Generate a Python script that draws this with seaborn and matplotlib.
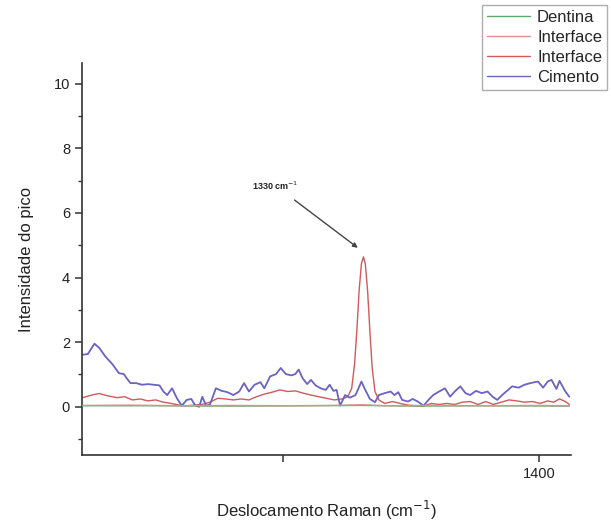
import numpy as np
import pandas as pd
import matplotlib
matplotlib.use("Agg")
import matplotlib.pyplot as plt
import seaborn as sns

# Raman shift (cm^-1) and peak intensity for each spectrum
cimento_x = [1221.8, 1223.8, 1226.4, 1228.3, 1230.6, 1233.6, 1235.9, 1237.9, 1238.9, 1240.5,
             1242.7, 1245.0, 1247.3, 1249.5, 1251.8, 1253.3, 1254.8, 1256.7, 1258.6, 1260.5,
             1262.4, 1264.2, 1265.8, 1267.3, 1268.5, 1270.0, 1271.5, 1273.8, 1276.1, 1278.3,
             1280.6, 1282.9, 1284.8, 1286.7, 1288.9, 1291.2, 1292.7, 1295.0, 1297.3, 1299.1,
             1301.1, 1303.3, 1304.8, 1306.1, 1307.6, 1309.4, 1310.9, 1312.7, 1314.7, 1316.7,
             1318.2, 1319.7, 1320.9, 1322.3, 1324.2, 1326.1, 1328.3, 1330.6, 1332.1, 1333.9,
             1335.9, 1337.4, 1339.7, 1342.0, 1343.5, 1345.0, 1346.5, 1348.8, 1350.6, 1352.6,
             1354.8, 1357.1, 1358.6, 1360.9, 1363.2, 1365.2, 1367.0, 1369.2, 1371.2, 1373.0,
             1375.3, 1377.6, 1379.8, 1381.8, 1383.6, 1385.5, 1387.4, 1389.4, 1392.0, 1394.2,
             1396.5, 1399.5, 1401.5, 1403.3, 1404.8, 1406.7, 1407.9, 1410.2, 1411.7]
cimento_y = [1.61, 1.63, 1.95, 1.82, 1.56, 1.30, 1.04, 1.01, 0.89, 0.73,
             0.73, 0.68, 0.70, 0.68, 0.66, 0.47, 0.36, 0.57, 0.26, 0.03,
             0.21, 0.24, 0.03, 0.00, 0.31, 0.03, 0.07, 0.57, 0.49, 0.45,
             0.36, 0.47, 0.73, 0.47, 0.68, 0.76, 0.57, 0.94, 1.01, 1.20,
             1.01, 0.97, 1.01, 1.15, 0.89, 0.70, 0.83, 0.66, 0.57, 0.52,
             0.68, 0.49, 0.52, 0.03, 0.36, 0.28, 0.36, 0.78, 0.52, 0.24,
             0.14, 0.36, 0.42, 0.47, 0.36, 0.45, 0.21, 0.16, 0.24, 0.16,
             0.03, 0.24, 0.36, 0.47, 0.57, 0.31, 0.47, 0.63, 0.42, 0.36,
             0.49, 0.42, 0.47, 0.31, 0.21, 0.36, 0.49, 0.63, 0.59, 0.68,
             0.73, 0.78, 0.59, 0.78, 0.83, 0.55, 0.80, 0.47, 0.31]

interface_x = [1221.8, 1225.3, 1228.3, 1231.4, 1235.2, 1238.2, 1241.2, 1244.2, 1247.3, 1250.3,
               1253.3, 1256.4, 1259.4, 1262.4, 1265.5, 1268.5, 1271.5, 1274.5, 1277.6, 1280.6,
               1283.6, 1286.7, 1289.7, 1292.7, 1295.8, 1298.8, 1301.8, 1304.8, 1307.9, 1310.9,
               1313.9, 1317.0, 1320.0, 1323.0, 1325.3, 1326.8, 1327.9, 1328.8, 1329.7, 1330.6,
               1331.4, 1332.1, 1333.0, 1333.9, 1334.8, 1335.9, 1337.4, 1339.7, 1342.7, 1345.8,
               1348.8, 1351.8, 1354.8, 1357.9, 1360.9, 1363.9, 1367.0, 1370.0, 1373.0, 1376.1,
               1379.1, 1382.1, 1385.2, 1388.2, 1391.2, 1394.2, 1397.3, 1400.3, 1403.3, 1405.6,
               1407.9, 1410.2, 1411.7]
interface_y = [0.28, 0.36, 0.41, 0.34, 0.28, 0.31, 0.21, 0.24, 0.18, 0.21,
               0.14, 0.10, 0.05, 0.03, 0.05, 0.07, 0.14, 0.26, 0.24, 0.21,
               0.24, 0.21, 0.31, 0.39, 0.45, 0.52, 0.47, 0.49, 0.42, 0.36,
               0.31, 0.26, 0.21, 0.24, 0.31, 0.57, 1.30, 2.34, 3.60, 4.43,
               4.64, 4.43, 3.60, 2.34, 1.20, 0.47, 0.21, 0.10, 0.16, 0.10,
               0.05, 0.03, 0.02, 0.10, 0.07, 0.10, 0.07, 0.14, 0.16, 0.07,
               0.16, 0.07, 0.14, 0.21, 0.18, 0.14, 0.16, 0.10, 0.18, 0.14,
               0.24, 0.16, 0.07]

interface_b_x = [1221.8, 1240.0, 1260.0, 1280.0, 1300.0, 1320.0, 1331.0, 1340.0, 1360.0,
                 1380.0, 1400.0, 1411.7]
interface_b_y = [0.04, 0.05, 0.03, 0.04, 0.03, 0.04, 0.06, 0.03, 0.04, 0.03, 0.04, 0.03]

dentina_x = [1221.8, 1250.0, 1280.0, 1310.0, 1331.0, 1350.0, 1380.0, 1411.7]
dentina_y = [0.03, 0.03, 0.02, 0.03, 0.04, 0.02, 0.03, 0.02]

series_names = ["Dentina", "Interface", "Interface", "Cimento"]
series_colors = ["#5da86a", "#dc8f8f", "#cf5a5a", "#6a62c4"]

x_ticks = [1300, 1400]
x_tick_labels = ["", "1400"]
y_ticks = [0, 2, 4, 6, 8, 10]

peak_label = "1330 cm$^{-1}$"
peak_pos = 1331.4
peak_val = 4.64

sns.set_style("ticks")
plt.rcParams["font.family"] = ["Liberation Sans", "DejaVu Sans"]

fig = plt.figure(figsize=(6.11, 5.28), dpi=100)
ax = fig.add_axes([0.134, 0.138, 0.801, 0.743])

data = [(dentina_x, dentina_y), (interface_b_x, interface_b_y),
        (interface_x, interface_y), (cimento_x, cimento_y)]
widths = [1.0, 1.0, 1.0, 1.3]
handles = []
for (xs, ys), name, color, lw in zip(data, series_names, series_colors, widths):
    df = pd.DataFrame({"shift": xs, "intensity": ys})
    sns.lineplot(data=df, x="shift", y="intensity", ax=ax, color=color,
                 linewidth=lw, estimator=None, sort=True)
    handles.append(plt.Line2D([], [], color=color, linewidth=1.0, label=name))

# draw the baseline spectra on top so they stay visible at zero
for line in ax.lines[:2]:
    line.set_zorder(3)

ax.set_xlim(1221.5, 1412.5)
ax.set_ylim(-1.5, 10.65)
ax.set_xticks(x_ticks)
ax.set_xticklabels(x_tick_labels)
ax.set_yticks(y_ticks)
ax.set_yticks([-1, 1, 3, 5, 7, 9], minor=True)
ax.tick_params(axis="both", which="major", direction="out", length=5, width=1.1,
               color="#333333", labelsize=10.5, labelcolor="#222222")
ax.tick_params(axis="y", which="minor", direction="out", length=3, width=1.0,
               color="#333333")

sns.despine(ax=ax)
for side in ("left", "bottom"):
    ax.spines[side].set_color("#333333")
    ax.spines[side].set_linewidth(1.2)

ax.set_xlabel("Deslocamento Raman (cm$^{-1}$)", fontsize=12, color="#222222", labelpad=13)
ax.set_ylabel("Intensidade do pico", fontsize=12, color="#222222", labelpad=14)

ax.annotate(peak_label, xy=(peak_pos - 2.2, peak_val + 0.28), xytext=(1297.0, 6.85),
            fontsize=6.5, fontweight="bold", color="#222222", ha="center", va="center",
            arrowprops=dict(arrowstyle="-|>", color="#444444", lw=1.0,
                            mutation_scale=7, shrinkA=6, shrinkB=0))

leg = fig.legend(handles=handles, loc="upper left", bbox_to_anchor=(0.789, 0.99),
                 fontsize=12, frameon=True, fancybox=False, handlelength=2.6,
                 handletextpad=0.4, labelspacing=0.3, borderpad=0.3,
                 borderaxespad=0.0)
leg.get_frame().set_edgecolor("#999999")
leg.get_frame().set_linewidth(1.0)

fig.savefig("out.png", dpi=100)
